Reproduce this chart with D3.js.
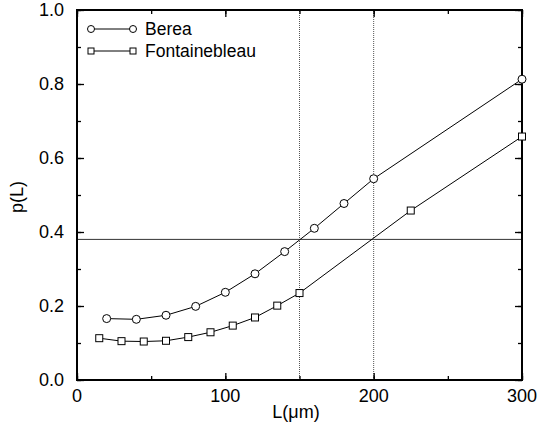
<!DOCTYPE html>
<html>
<head>
<meta charset="utf-8">
<script src="https://cdn.jsdelivr.net/npm/d3@7"></script>
<style>
  body { margin: 0; background: #fff; }
  svg { display: block; font-family: "Liberation Sans", Arial, sans-serif; }
</style>
</head>
<body>
<svg id="chart" width="538" height="436"></svg>
<script>
'use strict';

// data
var bereaL = [20, 40, 60, 80, 100, 120, 140, 160, 180, 200, 300];
var bereaP = [0.166, 0.164, 0.175, 0.199, 0.237, 0.287, 0.347, 0.410, 0.477, 0.544, 0.813];
var fontL = [15, 30, 45, 60, 75, 90, 105, 120, 135, 150, 225, 300];
var fontP = [0.113, 0.105, 0.104, 0.106, 0.116, 0.129, 0.147, 0.169, 0.201, 0.235, 0.458, 0.658];
var xTicks = [0, 100, 200, 300];
var yTicks = [0.0, 0.2, 0.4, 0.6, 0.8, 1.0];
var refP = 0.38;        // horizontal reference line
var refL = [150, 200];  // vertical dotted lines
var seriesNames = ['Berea', 'Fontainebleau'];

var svg = d3.select('#chart');
var m = {left: 77, right: 522, top: 10, bottom: 380};

var x = d3.scaleLinear().domain([0, 300]).range([m.left, m.right]);
var y = d3.scaleLinear().domain([0, 1]).range([m.bottom, m.top]);

// reference lines
svg.append('line')
    .attr('x1', x(0)).attr('x2', x(300))
    .attr('y1', y(refP)).attr('y2', y(refP))
    .attr('stroke', '#333').attr('stroke-width', 1);

svg.selectAll('line.vref')
    .data(refL)
    .enter().append('line')
    .attr('class', 'vref')
    .attr('x1', function(d) {return x(d);})
    .attr('x2', function(d) {return x(d);})
    .attr('y1', y(0)).attr('y2', y(1))
    .attr('stroke', '#555').attr('stroke-width', 1)
    .attr('stroke-dasharray', '1,1');

// axes, ticks inward on all four sides
var minorX = d3.range(0, 301, 50);
var minorY = d3.range(0, 1.01, 0.1);

function drawAxis(axis, ticks, size) {
    return axis.tickValues(ticks).tickSize(size).tickFormat('');
}

var gB = svg.append('g').attr('transform', 'translate(0,' + m.bottom + ')')
    .call(drawAxis(d3.axisTop(x), minorX, 4));
var gB2 = svg.append('g').attr('transform', 'translate(0,' + m.bottom + ')')
    .call(drawAxis(d3.axisTop(x), xTicks, 7));
var gT = svg.append('g').attr('transform', 'translate(0,' + m.top + ')')
    .call(drawAxis(d3.axisBottom(x), minorX, 4));
var gT2 = svg.append('g').attr('transform', 'translate(0,' + m.top + ')')
    .call(drawAxis(d3.axisBottom(x), xTicks, 7));
var gL = svg.append('g').attr('transform', 'translate(' + m.left + ',0)')
    .call(drawAxis(d3.axisRight(y), minorY, 4));
var gL2 = svg.append('g').attr('transform', 'translate(' + m.left + ',0)')
    .call(drawAxis(d3.axisRight(y), yTicks, 7));
var gR = svg.append('g').attr('transform', 'translate(' + m.right + ',0)')
    .call(drawAxis(d3.axisLeft(y), minorY, 4));
var gR2 = svg.append('g').attr('transform', 'translate(' + m.right + ',0)')
    .call(drawAxis(d3.axisLeft(y), yTicks, 7));

[gB, gB2, gT, gT2, gL, gL2, gR, gR2].forEach(function(g) {
    g.select('.domain').remove();
    g.selectAll('line').attr('stroke', '#000').attr('stroke-width', 1.3);
});

// frame
svg.append('rect')
    .attr('x', m.left).attr('y', m.top)
    .attr('width', m.right - m.left).attr('height', m.bottom - m.top)
    .attr('fill', 'none').attr('stroke', '#000').attr('stroke-width', 2);

// tick labels
svg.selectAll('text.xl')
    .data(xTicks)
    .enter().append('text')
    .attr('class', 'xl')
    .attr('x', function(d) {return x(d);})
    .attr('y', m.bottom + 22)
    .attr('text-anchor', 'middle')
    .attr('font-size', 18)
    .text(function(d) {return d;});

svg.selectAll('text.yl')
    .data(yTicks)
    .enter().append('text')
    .attr('class', 'yl')
    .attr('x', m.left - 13)
    .attr('y', function(d) {return y(d) + 6;})
    .attr('text-anchor', 'end')
    .attr('font-size', 18)
    .text(function(d) {return d3.format('.1f')(d);});

// axis titles
svg.append('text')
    .attr('x', 296).attr('y', 418)
    .attr('text-anchor', 'middle')
    .attr('font-size', 18)
    .text('L(\u03BCm)');

svg.append('text')
    .attr('transform', 'translate(23,197) rotate(-90)')
    .attr('text-anchor', 'middle')
    .attr('font-size', 18)
    .text('p(L)');

// series
var line = d3.line()
    .x(function(d) {return x(d[0]);})
    .y(function(d) {return y(d[1]);});

var berea = d3.zip(bereaL, bereaP);
var font = d3.zip(fontL, fontP);

svg.append('path').datum(berea).attr('d', line)
    .attr('fill', 'none').attr('stroke', '#000').attr('stroke-width', 1);
svg.append('path').datum(font).attr('d', line)
    .attr('fill', 'none').attr('stroke', '#000').attr('stroke-width', 1);

svg.selectAll('circle.berea')
    .data(berea)
    .enter().append('circle')
    .attr('class', 'berea')
    .attr('cx', function(d) {return x(d[0]);})
    .attr('cy', function(d) {return y(d[1]);})
    .attr('r', 4)
    .attr('fill', '#fff').attr('stroke', '#000').attr('stroke-width', 1);

svg.selectAll('rect.font')
    .data(font)
    .enter().append('rect')
    .attr('class', 'font')
    .attr('x', function(d) {return x(d[0]) - 3.5;})
    .attr('y', function(d) {return y(d[1]) - 3.5;})
    .attr('width', 7).attr('height', 7)
    .attr('fill', '#fff').attr('stroke', '#000').attr('stroke-width', 1);

// legend
var legend = svg.append('g');
seriesNames.forEach(function(name, i) {
    var ly = 29 + i * 22;
    legend.append('line')
        .attr('x1', 91).attr('x2', 133).attr('y1', ly).attr('y2', ly)
        .attr('stroke', '#000').attr('stroke-width', 1);
    [91, 133].forEach(function(lx) {
        if (i === 0) {
            legend.append('circle').attr('cx', lx).attr('cy', ly).attr('r', 3.5)
                .attr('fill', '#fff').attr('stroke', '#000');
        } else {
            legend.append('rect').attr('x', lx - 3).attr('y', ly - 3)
                .attr('width', 6).attr('height', 6)
                .attr('fill', '#fff').attr('stroke', '#000');
        }
    });
    legend.append('text')
        .attr('x', 145).attr('y', ly + 6)
        .attr('font-size', 17.5)
        .text(name);
});
</script>
</body>
</html>
